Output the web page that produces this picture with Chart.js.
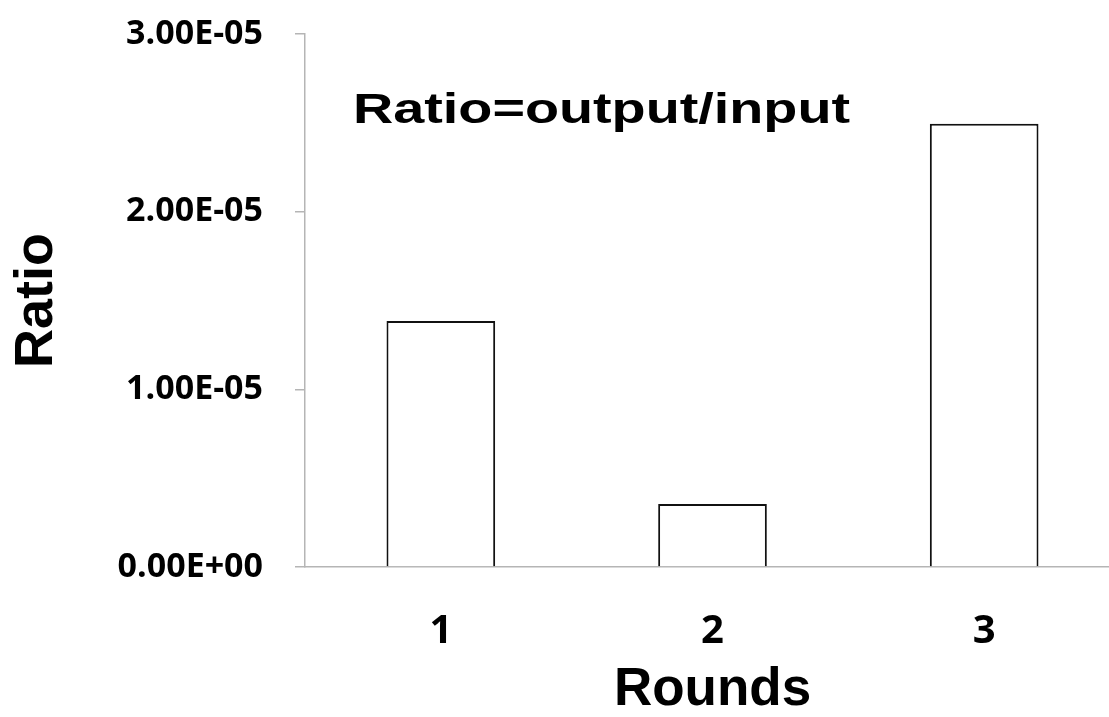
<!DOCTYPE html>
<html>
<head>
<meta charset="utf-8">
<script src="https://cdn.jsdelivr.net/npm/chart.js@4"></script>
<style>
    html, body { margin: 0; padding: 0; background: #fff; overflow: hidden; font-family: "Open Sans", sans-serif; }
    .wrap { width: 1120px; height: 717px; }
</style>
</head>
<body>
<div class="wrap"><canvas id="ratioChart" width="1120" height="717"></canvas></div>
<script>
const rounds = ['1', '2', '3'];
const ratios = [1.385e-5, 0.355e-5, 2.495e-5];
const yTicks = [0, 1e-5, 2e-5, 3e-5];
const noteText = 'Ratio=output/input';

let ratioChart = null;

function formatSci(v) {
    if (v === 0) return '0.00E+00';
    const parts = v.toExponential(2).split('e');
    const exp = parseInt(parts[1], 10);
    return parts[0] + 'E' + (exp < 0 ? '-' : '+') + String(Math.abs(exp)).padStart(2, '0');
}

// text box inside the plot area
const notePlugin = {
    id: 'note',
    afterDraw(chart) {
        const ctx = chart.ctx;
        ctx.save();
        ctx.font = 'bold 43px "Liberation Sans", Arial, sans-serif';
        ctx.fillStyle = '#000';
        ctx.textBaseline = 'alphabetic';
        ctx.textAlign = 'left';
        const w = ctx.measureText(noteText).width;
        ctx.translate(353, 123);
        ctx.scale(497 / w, 1);
        ctx.fillText(noteText, 0, 0);
        ctx.restore();
    }
};

function drawChart() {
    if (ratioChart) { ratioChart.update('none'); return; }
    const ctx = document.getElementById('ratioChart').getContext('2d');
    ratioChart = new Chart(ctx, {
        type: 'bar',
        data: {
            labels: rounds,
            datasets: [{
                data: ratios,
                backgroundColor: '#ffffff',
                borderColor: '#111111',
                borderWidth: 2,
                barPercentage: 0.4,
                categoryPercentage: 1
            }]
        },
        options: {
            responsive: false,
            animation: false,
            layout: { padding: { top: 34, right: 0, bottom: 0, left: 0 } },
            plugins: { legend: { display: false }, tooltip: { enabled: false } },
            scales: {
                x: {
                    grid: { display: false },
                    border: { display: true, color: '#b5b5b5', width: 1.5 },
                    ticks: {
                        color: '#000',
                        padding: 33,
                        font: { family: '"Open Sans", sans-serif', weight: 'bold', size: 40 }
                    },
                    title: {
                        display: true,
                        text: 'Rounds',
                        color: '#000',
                        padding: { top: 0, bottom: 0 },
                        font: { family: '"Liberation Sans", Arial, sans-serif', weight: 'bold', size: 53, lineHeight: 1 }
                    },
                    afterFit: scale => { scale.height = 150; }
                },
                y: {
                    min: 0,
                    max: 3e-5,
                    grid: { drawOnChartArea: false, drawTicks: true, tickLength: 10, color: '#b5b5b5', lineWidth: 1.5 },
                    border: { display: true, color: '#b5b5b5', width: 1.5 },
                    afterBuildTicks: scale => { scale.ticks = yTicks.map(v => ({ value: v })); },
                    ticks: {
                        color: '#000',
                        padding: 32,
                        font: { family: '"Open Sans", sans-serif', weight: 'bold', size: 34 },
                        callback: v => formatSci(v)
                    },
                    title: {
                        display: true,
                        text: 'Ratio',
                        color: '#000',
                        padding: { top: 10, bottom: 0 },
                        font: { family: '"Liberation Sans", Arial, sans-serif', weight: 'bold', size: 54, lineHeight: 1 }
                    },
                    afterFit: scale => {
                        scale.width = 305;
                        scale.paddingTop = 0;
                        scale.paddingBottom = 0;
                    }
                }
            }
        },
        plugins: [notePlugin]
    });
}

drawChart();
document.fonts.ready.then(() => drawChart());
setTimeout(drawChart, 200);
</script>
</body>
</html>
